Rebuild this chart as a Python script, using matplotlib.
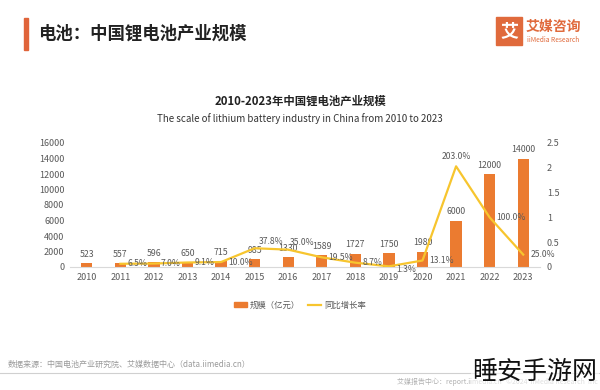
import matplotlib.pyplot as plt
from matplotlib.patches import Rectangle
from matplotlib.lines import Line2D

plt.rcParams['font.family'] = ['Noto Sans CJK SC', 'DejaVu Sans']

# 数据
years = ['2010', '2011', '2012', '2013', '2014', '2015', '2016',
         '2017', '2018', '2019', '2020', '2021', '2022', '2023']
scale = [523, 557, 596, 650, 715, 985, 1330, 1589, 1727, 1750, 1980, 6000, 12000, 14000]
growth_years = years[1:]
growth = [0.065, 0.070, 0.091, 0.100, 0.378, 0.350, 0.195, 0.087, 0.013, 0.131, 2.030, 1.000, 0.250]
growth_labels = ['6.5%', '7.0%', '9.1%', '10.0%', '37.8%', '35.0%', '19.5%',
                 '8.7%', '1.3%', '13.1%', '203.0%', '100.0%', '25.0%']

bar_color = '#EB7B30'
line_color = '#F7C52E'
gray = '#595959'

fig = plt.figure(figsize=(6, 3.9), dpi=100)
fig.patch.set_facecolor('white')

# 页眉
fig.patches.append(Rectangle((24 / 600, 1 - 50 / 390), 4 / 600, 32 / 390,
                             transform=fig.transFigure, color='#E0643A'))
fig.text(38 / 600, 1 - 34 / 390, '电池：中国锂电池产业规模', fontsize=12.5,
         fontweight='bold', color='#222222', va='center')

# logo
fig.patches.append(Rectangle((496 / 600, 1 - 45 / 390), 26 / 600, 28 / 390,
                             transform=fig.transFigure, color='#E06A3C'))
fig.text(509 / 600, 1 - 31 / 390, '艾', fontsize=13, fontweight='bold',
         color='white', ha='center', va='center')
fig.text(526 / 600, 1 - 27 / 390, '艾媒咨询', fontsize=10, fontweight='bold',
         color='#E06A3C', va='center')
fig.text(527 / 600, 1 - 40 / 390, 'iiMedia Research', fontsize=4.8,
         color='#E06A3C', va='center')

# 标题
fig.text(0.5, 1 - 101 / 390, '2010-2023年中国锂电池产业规模', fontsize=8.2,
         fontweight='bold', color='#222222', ha='center', va='center')
fig.text(0.5, 1 - 119 / 390, 'The scale of lithium battery industry in China from 2010 to 2023',
         fontsize=7, color='#333333', ha='center', va='center')

ax = fig.add_axes([70 / 600, 123 / 390, 470 / 600, 124 / 390])
x = list(range(len(years)))
ax.bar(x, scale, width=0.34, color=bar_color, zorder=2)
for xi, v in zip(x, scale):
    ax.annotate(str(v), (xi, v), xytext=(0, 3), textcoords='offset points',
                ha='center', va='bottom', fontsize=6.3, color=gray)

ax.set_xlim(-0.5, len(years) - 0.5)
ax.set_ylim(0, 16000)
ax.set_yticks(range(0, 16001, 2000))
ax.set_xticks(x)
ax.set_xticklabels(years)
ax.tick_params(axis='both', length=0, labelsize=6.5, labelcolor=gray, pad=4)
for s in ['top', 'right', 'left']:
    ax.spines[s].set_visible(False)
ax.spines['bottom'].set_color('#D9D9D9')

ax2 = ax.twinx()
gx = [years.index(y) for y in growth_years]
ax2.plot(gx, growth, color=line_color, linewidth=1.6, zorder=3)
ax2.set_ylim(0, 2.5)
ax2.set_yticks([0, 0.5, 1, 1.5, 2, 2.5])
ax2.set_yticklabels(['0', '0.5', '1', '1.5', '2', '2.5'])
ax2.tick_params(axis='y', length=0, labelsize=6.5, labelcolor=gray, pad=5)
for s in ['top', 'right', 'left', 'bottom']:
    ax2.spines[s].set_visible(False)

offsets = {'37.8%': (3, 5, 'left', 'center'), '35.0%': (1, 5, 'left', 'center'),
           '203.0%': (0, 4, 'center', 'bottom'), '1.3%': (5, -2, 'left', 'center')}
for xi, v, lab in zip(gx, growth, growth_labels):
    dx, dy, ha, va = offsets.get(lab, (5, 0, 'left', 'center'))
    ax2.annotate(lab, (xi, v), xytext=(dx, dy), textcoords='offset points',
                 ha=ha, va=va, fontsize=6.2, color=gray, zorder=4)

# 图例
handles = [Rectangle((0, 0), 1, 1, color=bar_color),
           Line2D([0], [0], color=line_color, linewidth=1.6)]
fig.legend(handles, ['规模（亿元）', '同比增长率'], loc='center',
           bbox_to_anchor=(0.5, 1 - 305 / 390), ncol=2, frameon=False,
           fontsize=6, labelcolor=gray, handlelength=1.6, handleheight=0.6,
           columnspacing=0.9, handletextpad=0.4)

# 页脚
fig.text(8 / 600, 1 - 364 / 390, '数据来源：中国电池产业研究院、艾媒数据中心（data.iimedia.cn）',
         fontsize=5.8, color='#9A9A9A', va='center')
fig.lines.append(Line2D([0, 1], [1 - 373 / 390, 1 - 373 / 390],
                        transform=fig.transFigure, color='#D0D0D0', linewidth=0.8))
fig.text(598 / 600, 1 - 382 / 390, '艾媒报告中心：report.iimedia.cn   ©2024  iiMedia Research  Inc',
         fontsize=5, color='#B0B0B0', ha='right', va='center')
fig.text(597 / 600, 1 - 372 / 390, '睡安手游网', fontsize=18, color='#111111',
         ha='right', va='center',
         bbox=dict(facecolor='white', edgecolor='none', alpha=0.6, pad=1))

fig.savefig('out.png', dpi=100, facecolor='white')
